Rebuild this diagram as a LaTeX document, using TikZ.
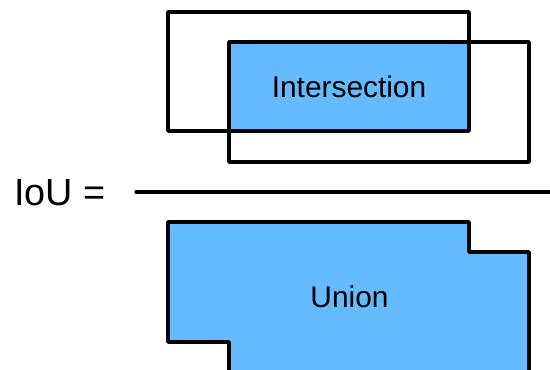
\documentclass[tikz,border=0pt]{standalone}
\usepackage{fontspec}
\setmainfont{Liberation Sans}
\usetikzlibrary{calc}
\definecolor{ioublue}{RGB}{100,187,255}

\begin{document}
\begin{tikzpicture}[x=0.02cm,y=-0.02cm]
	\useasboundingbox (0,0) rectangle (550,369);
	\coordinate (a1) at (168,12);
	\coordinate (a2) at (469,131);
	\coordinate (b1) at (229,42);
	\coordinate (b2) at (529,162);
	
	% numerator: two boxes and their intersection
	\fill[ioublue] (b1) rectangle (a2);
	\draw[line width=2.1pt, line join=round] (a1) rectangle (a2);
	\draw[line width=2.1pt, line join=round] (b1) rectangle (b2);
	\node[anchor=base, font=\fontsize{17}{20}\selectfont] (inter) at (349,97) {Intersection};
	
	% fraction bar and IoU
	\node[anchor=base west, font=\fontsize{21.5}{24}\selectfont] (iou) at (8,205) {IoU =};
	\coordinate (barl) at (136,192);
	\coordinate (barr) at (560,192);
	\draw[line width=1.9pt, line cap=round] (barl) -- (barr);
	
	% denominator: union of the two boxes
	\filldraw[fill=ioublue, line width=2.1pt, line join=round]
  (168,222) -- (469,222) -- (469,252) -- (529,252) -- (529,380)
  -- (229,380) -- (229,342) -- (168,342) -- cycle;
	\node[anchor=base, font=\fontsize{17}{20}\selectfont] (union) at (349.5,307) {Union};
\end{tikzpicture}
\end{document}
